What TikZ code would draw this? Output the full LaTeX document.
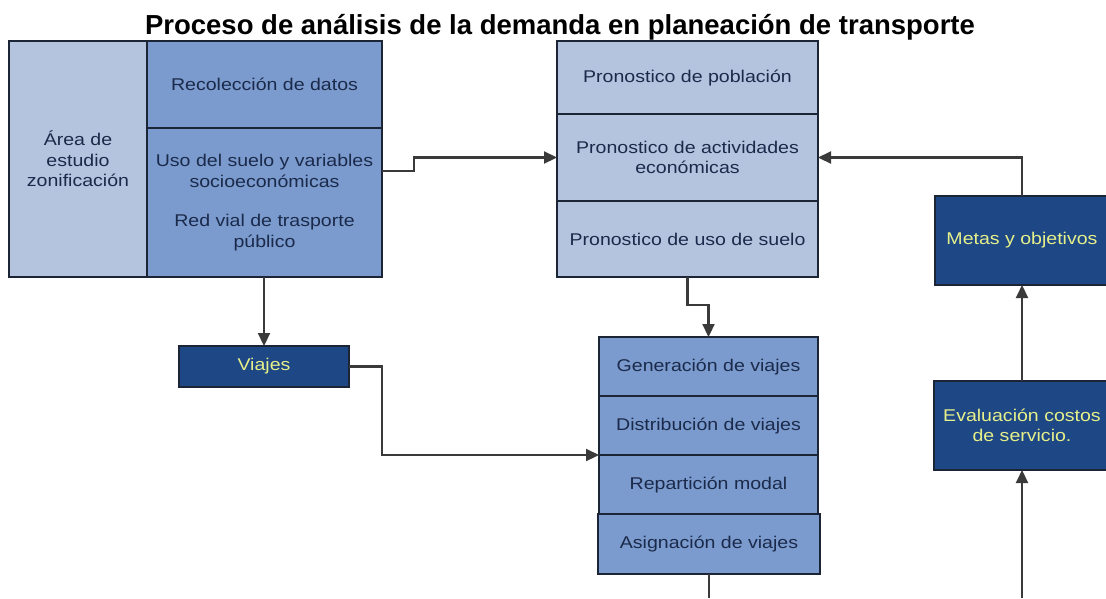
\documentclass[tikz,border=0pt]{standalone}
\usepackage{fontspec}
\setmainfont{Liberation Sans}
\newfontfamily\boxfont[FakeStretch=1.15]{Liberation Sans}
\usetikzlibrary{positioning,arrows.meta}
\definecolor{pale}{HTML}{B4C4DF}
\definecolor{mid}{HTML}{7B9BCE}
\definecolor{navy}{HTML}{1E4785}
\definecolor{ink}{HTML}{1B2A4A}
\definecolor{lime}{HTML}{E6F08A}
\definecolor{rim}{HTML}{1C2535}
\definecolor{wire}{HTML}{3A3A3A}

\begin{document}
\begin{tikzpicture}
		[x=1pt,y=-1pt,
			box/.style={draw=rim,line width=1.8pt,inner sep=0pt,outer sep=0pt,align=center,
				text=ink,font=\boxfont\fontsize{17}{20.5}\selectfont},
			lightbox/.style={box,fill=pale},
			midbox/.style={box,fill=mid},
			darkbox/.style={box,fill=navy,text=lime},
			arr/.style={draw=wire,line width=2.2pt,-{Triangle[length=13pt,width=12pt]}},
			wireline/.style={draw=wire,line width=2.2pt}]
		\useasboundingbox (0,0) rectangle (1106,598);
		\node[anchor=base,font=\bfseries\fontsize{27.5}{32}\selectfont,text=black] (title) at (560,34)
			{Proceso de análisis de la demanda en planeación de transporte};
		\node[lightbox,minimum width=138pt,minimum height=236pt] (area) at (78,159)
			{Área de\\estudio\\zonificación};
		\node[midbox,minimum width=235pt,minimum height=87pt] (reco) at (264.5,84.5)
			{Recolección de datos};
		\node[midbox,minimum width=235pt,minimum height=149pt] (uso) at (264.5,202.5)
			{Uso del suelo y variables\\socioeconómicas\\[19pt]Red vial de trasporte\\público};
		\node[lightbox,minimum width=261pt,minimum height=73pt] (pob) at (687.5,77.5)
			{Pronostico de población};
		\node[lightbox,minimum width=261pt,minimum height=87pt] (act) at (687.5,157.5)
			{Pronostico de actividades\\económicas};
		\node[lightbox,minimum width=261pt,minimum height=76pt] (suelo) at (687.5,239)
			{Pronostico de uso de suelo};
		\node[darkbox,minimum width=174pt,minimum height=89pt] (metas) at (1022,240.5)
			{Metas y objetivos};
		\node[darkbox,minimum width=170pt,minimum height=41pt] (viajes) at (264,366.5)
			{Viajes};
		\node[midbox,minimum width=219pt,minimum height=59pt] (gen) at (708.5,366.5)
			{Generación de viajes};
		\node[midbox,minimum width=219pt,minimum height=59pt] (dist) at (708.5,425.5)
			{Distribución de viajes};
		\node[midbox,minimum width=219pt,minimum height=59pt] (rep) at (708.5,484.5)
			{Repartición modal};
		\node[midbox,minimum width=222pt,minimum height=60pt] (asig) at (709,544)
			{Asignación de viajes};
		\node[darkbox,minimum width=176pt,minimum height=89pt] (eval) at (1022,425.5)
			{Evaluación costos\\de servicio.};
		\coordinate (evalin) at (1022,598);
		\coordinate (asigout) at (709,598);
		\draw[arr] ([yshift=31.5pt]uso.east) -- ++(32,0) |- (act.west);
		\draw[arr] (metas.north) |- (act.east);
		\draw[arr] (suelo.south) -- ++(0,28) -| (gen.north);
		\draw[arr] (uso.south -| viajes.north) -- (viajes.north);
		\draw[arr] (viajes.east) -- ++(33,0) |- (dist.south west);
		\draw[arr] (evalin) -- (eval.south);
		\draw[arr] (eval.north) -- (metas.south);
		\draw[wireline] (asig.south) -- (asigout);
	\end{tikzpicture}
\end{document}
